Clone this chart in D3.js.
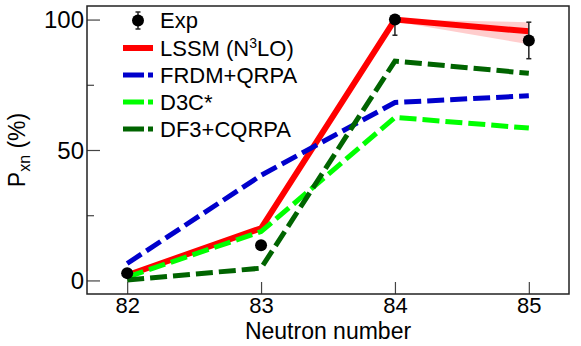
<!DOCTYPE html>
<html>
<head>
<meta charset="utf-8">
<script src="https://cdn.jsdelivr.net/npm/d3@7"></script>
<style>
  html, body { margin: 0; padding: 0; background: #fff; }
  svg { display: block; font-family: "Liberation Sans", Arial, Helvetica, sans-serif; }
</style>
</head>
<body>
<svg id="chart" width="581" height="346"></svg>
<script>
// ---- data ----
const neutrons = [82, 83, 84, 85];
const expValues = [2.8, 13.5, 100, 92];
const expErrLow = [0, 0, 6, 7];
const expErrHigh = [0, 0, 0, 7];
const lssm = [2, 20, 100, 95.5];
const lssmLow = [1.8, 19.3, 99.3, 90.5];
const lssmHigh = [2.2, 20.5, 100, 99];
const frdm = [6.5, 40.3, 68.2, 70.8];
const d3c = [1.3, 18.7, 62.5, 58.4];
const df3 = [0.2, 4.7, 84.1, 79.4];
const seriesNames = ["LSSM (N\u00b3LO)", "FRDM+QRPA", "D3C*", "DF3+CQRPA"];
const seriesColors = ["#ff0000", "#0000cc", "#00ff00", "#006400"];
const yTicks = [0, 50, 100];
const yMinorTicks = [25, 75];

// ---- layout ----
const svg = d3.select("#chart");
const mL = 87, mR = 569, mT = 6, mB = 294;
const x = d3.scaleLinear().domain([81.7, 85.3]).range([mL, mR]);
const y = d3.scaleLinear().domain([-5.2, 105.2]).range([mB, mT]);

svg.append("defs").append("clipPath").attr("id", "clip")
  .append("rect").attr("x", mL).attr("y", mT).attr("width", mR - mL).attr("height", mB - mT);

const plot = svg.append("g").attr("clip-path", "url(#clip)");

// band
const bandData = neutrons.map((n, i) => ({n, lo: lssmLow[i], hi: lssmHigh[i]}));
plot.append("path").datum(bandData)
  .attr("fill", "#ffc4c4").attr("opacity", 0.85)
  .attr("d", d3.area().x(d => x(d.n)).y0(d => y(d.lo)).y1(d => y(d.hi)));

const line = d3.line().x(d => x(d.n)).y(d => y(d.v));
const series = [lssm, frdm, d3c, df3];
series.forEach((vals, k) => {
  plot.append("path").datum(neutrons.map((n, i) => ({n, v: vals[i]})))
    .attr("fill", "none")
    .attr("stroke", seriesColors[k])
    .attr("stroke-width", k === 0 ? 6 : 5)
    .attr("stroke-dasharray", k === 0 ? null : "17,6")
    .attr("d", line);
});

// exp points
const expG = plot.append("g");
neutrons.forEach((n, i) => {
  const cx = x(n), cy = y(expValues[i]);
  if (expErrLow[i] > 0 || expErrHigh[i] > 0) {
    const y1 = y(expValues[i] + expErrHigh[i]), y2 = y(expValues[i] - expErrLow[i]);
    expG.append("line").attr("x1", cx).attr("x2", cx).attr("y1", y1).attr("y2", y2)
      .attr("stroke", "#222").attr("stroke-width", 1.5);
    [y1, y2].forEach(yy => {
      if (yy !== cy) expG.append("line").attr("x1", cx - 2.5).attr("x2", cx + 2.5).attr("y1", yy).attr("y2", yy)
        .attr("stroke", "#222").attr("stroke-width", 1.5);
    });
  }
  expG.append("circle").attr("cx", cx).attr("cy", cy).attr("r", 6).attr("fill", "#000");
});

// axes
const axG = svg.append("g");
const yAxis = d3.axisLeft(y).tickValues(yTicks).tickSize(-13).tickPadding(-9);
const yAx = axG.append("g").attr("transform", `translate(${mL},0)`).call(yAxis);
const yMinor = d3.axisLeft(y).tickValues(yMinorTicks).tickSize(-7).tickFormat("");
axG.append("g").attr("transform", `translate(${mL},0)`).call(yMinor);
const xAxis = d3.axisBottom(x).tickValues(neutrons).tickSize(-12).tickPadding(-6).tickFormat(d3.format("d"));
const xAx = axG.append("g").attr("transform", `translate(0,${mB})`).call(xAxis);
axG.selectAll(".domain").remove();
axG.selectAll(".tick line").attr("stroke", "#444").attr("stroke-width", 1.2);
yAx.selectAll(".tick text").attr("font-size", 24).attr("fill", "#000").attr("x", -3).attr("dy", "0.35em");
xAx.selectAll(".tick text").attr("font-size", 22).attr("fill", "#000").attr("y", 19).attr("dy", 0);

svg.append("rect").attr("x", mL).attr("y", mT).attr("width", mR - mL).attr("height", mB - mT)
  .attr("fill", "none").attr("stroke", "#222").attr("stroke-width", 1.5);

// axis labels
svg.append("text").attr("x", (mL + mR) / 2).attr("y", 339)
  .attr("text-anchor", "middle").attr("font-size", 23).text("Neutron number");
const yl = svg.append("text").attr("transform", "translate(25,150) rotate(-90)")
  .attr("text-anchor", "middle").attr("font-size", 23);
yl.append("tspan").text("P");
yl.append("tspan").attr("font-size", 16).attr("dy", 5).text("xn");
yl.append("tspan").attr("dy", -5).text(" (%)");

// legend
const lg = svg.append("g");
lg.append("line").attr("x1", 138).attr("x2", 138).attr("y1", 12).attr("y2", 29).attr("stroke", "#222").attr("stroke-width", 1.5);
[12, 29].forEach(yy => lg.append("line").attr("x1", 135.5).attr("x2", 140.5).attr("y1", yy).attr("y2", yy).attr("stroke", "#222").attr("stroke-width", 1.5));
lg.append("circle").attr("cx", 138).attr("cy", 20.5).attr("r", 6).attr("fill", "#000");
lg.append("text").attr("x", 160).attr("y", 20.5).attr("dy", "0.35em").attr("font-size", 22).text("Exp");
seriesNames.forEach((name, k) => {
  const yy = 48 + k * 27;
  lg.append("line").attr("x1", 123).attr("x2", 153).attr("y1", yy).attr("y2", yy)
    .attr("stroke", seriesColors[k]).attr("stroke-width", k === 0 ? 6 : 5)
    .attr("stroke-dasharray", k === 0 ? null : "21,4");
  const t = lg.append("text").attr("x", 160).attr("y", yy).attr("dy", "0.35em").attr("font-size", 22);
  if (k === 0) {
    t.append("tspan").text("LSSM (N");
    t.append("tspan").attr("font-size", 14).attr("dy", -8).text("3");
    t.append("tspan").attr("dy", 8).text("LO)");
  } else {
    t.text(name);
  }
});
</script>
</body>
</html>
